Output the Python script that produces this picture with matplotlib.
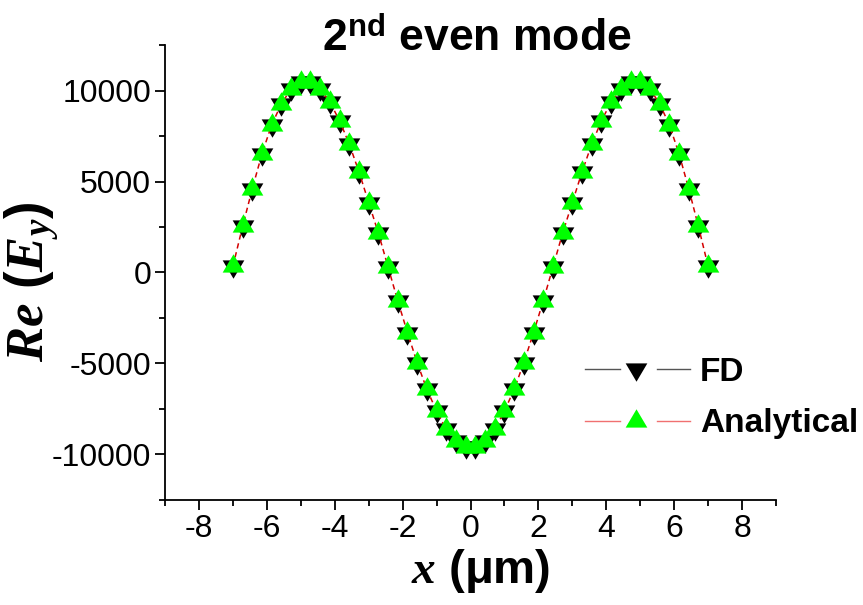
import numpy as np
import matplotlib
matplotlib.use('Agg')
import matplotlib.pyplot as plt
from matplotlib.ticker import MultipleLocator, FuncFormatter
from matplotlib.lines import Line2D
from matplotlib.legend_handler import HandlerBase

plt.rcParams['font.family'] = ['Liberation Sans', 'DejaVu Sans']
plt.rcParams['mathtext.fontset'] = 'custom'
plt.rcParams['mathtext.it'] = 'Liberation Serif:italic:bold'
plt.rcParams['mathtext.rm'] = 'Liberation Sans:bold'
plt.rcParams['mathtext.bf'] = 'Liberation Sans:bold'

# 50 sample points across the guide
x = np.linspace(-7, 7, 50)

# (left half, mirrored on the right half: even mode)
half = [340, 2530, 4600, 6530, 8110, 9275, 10080, 10475, 10475, 10070,
        9365, 8340, 7055, 5530, 3845, 2165, 300, -1560, -3303, -4954,
        -6422, -7615, -8624, -9266, -9578]
ey_analytical = half + half[::-1]
ey_fd = half + half[::-1]

# origin-style triangles, centred on the centroid
tri_up = [(-1, -0.563), (1, -0.563), (0, 1.127), (-1, -0.563)]
tri_dn = [(-1, 0.563), (1, 0.563), (0, -1.127), (-1, 0.563)]
ms = 17.6
green = '#00ff00'
red = '#d40000'


class Entry:
    def __init__(self, lc, marker, fc):
        self.lc, self.marker, self.fc = lc, marker, fc


class GapHandler(HandlerBase):
    # line - symbol - line, with a gap round the symbol
    def create_artists(self, legend, h, xd, yd, width, height, fontsize,
                       trans):
        y = height / 2 - yd
        x0 = -xd
        left = Line2D([x0, x0 + width * 0.333], [y, y], color=h.lc, lw=1.0)
        right = Line2D([x0 + width * 0.686, x0 + width], [y, y], color=h.lc,
                       lw=1.0)
        mk = Line2D([x0 + width * 0.49], [y], ls='none', marker=h.marker,
                    ms=ms, mfc=h.fc, mec=h.fc, mew=0)
        for a in (left, right, mk):
            a.set_transform(trans)
        return [left, right, mk]


fig = plt.figure(figsize=(8.63, 6.05), dpi=100)
ax = fig.add_axes([0.1912, 0.1736, 0.708, 0.752])

ax.plot(x, ey_fd, ls='none', marker=tri_dn, ms=ms, mfc='black',
        mec='black', mew=0)
ax.plot(x, ey_analytical, color=red, lw=1.1, ls=(0, (3.5, 2.5)),
        marker=tri_up, ms=ms, mfc=green, mec=green, mew=0)

ax.set_xlim(-9, 9)
ax.set_ylim(-12500, 12500)
ax.xaxis.set_major_locator(MultipleLocator(2))
ax.xaxis.set_minor_locator(MultipleLocator(1))
ax.yaxis.set_major_locator(MultipleLocator(5000))
ax.yaxis.set_minor_locator(MultipleLocator(2500))
ax.xaxis.set_major_formatter(FuncFormatter(lambda v, p: '%d' % v))
ax.yaxis.set_major_formatter(FuncFormatter(lambda v, p: '%d' % v))

for s in ['top', 'right']:
    ax.spines[s].set_visible(False)
for s in ['left', 'bottom']:
    ax.spines[s].set_linewidth(1.3)
ax.tick_params(which='major', direction='out', length=7, width=1.3,
               labelsize=23, pad=3)
ax.tick_params(which='minor', direction='out', length=4, width=1.3)

ax.set_title('2$^{\\rm nd}$ even mode', fontsize=32, fontweight='bold',
             pad=0, y=0.989)
ax.title.set_x(0.5106)
ax.set_xlabel('$x$ (\u03bcm)', fontsize=34, fontweight='bold')
ax.xaxis.set_label_coords(0.517, -0.104)
ax.set_ylabel('$Re$ ($E_y$)', fontsize=38, fontweight='bold')
ax.yaxis.set_label_coords(-0.17, 0.48)

handles = [Entry('#555555', tri_dn, 'black'), Entry('#f07070', tri_up, green)]
ax.legend(handles, ['FD', 'Analytical'], loc='upper left',
          bbox_to_anchor=(585 / 863, 1 - 357 / 605),
          bbox_transform=fig.transFigure, frameon=False,
          prop={'weight': 'bold', 'size': 24}, handlelength=3.15,
          handletextpad=0.3, labelspacing=0.61, borderpad=0,
          borderaxespad=0, handler_map={Entry: GapHandler()})

fig.savefig('out.png', dpi=100)
